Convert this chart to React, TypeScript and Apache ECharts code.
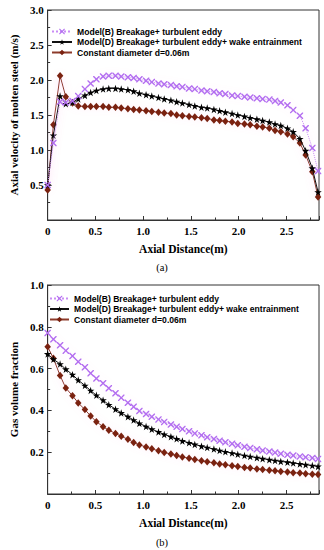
import React, { useEffect, useRef } from "react";
import * as echarts from "echarts";

const X = [0, 0.06, 0.13, 0.19, 0.26, 0.32, 0.39, 0.45, 0.51, 0.58, 0.64, 0.71, 0.77, 0.84, 0.90, 0.96, 1.03, 1.09, 1.16, 1.22, 1.29, 1.35, 1.41, 1.48, 1.54, 1.61, 1.67, 1.74, 1.80, 1.86, 1.93, 1.99, 2.06, 2.12, 2.19, 2.25, 2.32, 2.38, 2.44, 2.51, 2.57, 2.64, 2.70, 2.77, 2.83];

const VEL_B = [0.50, 1.10, 1.69, 1.68, 1.70, 1.77, 1.87, 1.95, 2.01, 2.05, 2.06, 2.06, 2.05, 2.04, 2.03, 2.01, 1.99, 1.97, 1.95, 1.94, 1.93, 1.91, 1.90, 1.88, 1.87, 1.85, 1.84, 1.83, 1.81, 1.80, 1.78, 1.77, 1.76, 1.75, 1.74, 1.73, 1.72, 1.70, 1.68, 1.64, 1.57, 1.49, 1.31, 1.03, 0.70];
const VEL_D = [0.50, 1.21, 1.77, 1.66, 1.68, 1.73, 1.78, 1.82, 1.85, 1.87, 1.88, 1.88, 1.87, 1.86, 1.84, 1.81, 1.79, 1.77, 1.75, 1.73, 1.71, 1.69, 1.67, 1.65, 1.63, 1.61, 1.60, 1.58, 1.56, 1.54, 1.52, 1.50, 1.48, 1.46, 1.44, 1.42, 1.40, 1.37, 1.35, 1.31, 1.26, 1.16, 0.99, 0.74, 0.40];
const VEL_C = [0.43, 1.36, 2.06, 1.76, 1.67, 1.63, 1.62, 1.62, 1.62, 1.62, 1.61, 1.61, 1.60, 1.59, 1.58, 1.57, 1.56, 1.55, 1.54, 1.53, 1.52, 1.50, 1.49, 1.48, 1.47, 1.46, 1.45, 1.43, 1.42, 1.41, 1.40, 1.38, 1.37, 1.36, 1.34, 1.33, 1.31, 1.28, 1.26, 1.23, 1.19, 1.10, 0.93, 0.69, 0.33];

const GAS_B = [0.77, 0.74, 0.712, 0.686, 0.66, 0.633, 0.606, 0.578, 0.553, 0.53, 0.506, 0.482, 0.46, 0.437, 0.417, 0.397, 0.383, 0.370, 0.357, 0.345, 0.333, 0.322, 0.311, 0.300, 0.290, 0.281, 0.272, 0.263, 0.255, 0.248, 0.240, 0.233, 0.226, 0.220, 0.214, 0.208, 0.203, 0.198, 0.193, 0.188, 0.184, 0.180, 0.176, 0.172, 0.168];
const GAS_D = [0.67, 0.645, 0.622, 0.597, 0.571, 0.545, 0.519, 0.495, 0.472, 0.449, 0.427, 0.406, 0.388, 0.370, 0.354, 0.338, 0.323, 0.310, 0.297, 0.285, 0.274, 0.264, 0.254, 0.245, 0.237, 0.229, 0.222, 0.215, 0.208, 0.202, 0.196, 0.190, 0.184, 0.179, 0.174, 0.169, 0.164, 0.160, 0.156, 0.152, 0.148, 0.144, 0.140, 0.136, 0.132];
const GAS_C = [0.705, 0.649, 0.567, 0.507, 0.47, 0.436, 0.404, 0.373, 0.346, 0.322, 0.305, 0.29, 0.276, 0.262, 0.247, 0.235, 0.225, 0.216, 0.207, 0.199, 0.191, 0.184, 0.177, 0.171, 0.165, 0.159, 0.154, 0.149, 0.144, 0.140, 0.135, 0.131, 0.127, 0.124, 0.120, 0.117, 0.114, 0.111, 0.108, 0.105, 0.102, 0.100, 0.097, 0.095, 0.093];

const NAMES = [
  "Model(B) Breakage+ turbulent eddy",
  "Model(D) Breakage+ turbulent eddy+ wake entrainment",
  "Constant diameter d=0.06m",
];
const X_NAME = "Axial Distance(m)";
const Y_NAMES = ["Axial velocity of molten steel (m/s)", "Gas volume fraction"];
const PANEL_LABELS = ["(a)", "(b)"];

const STAR = "path://M50,0 L61,35 L98,35 L68,57 L79,91 L50,70 L21,91 L32,57 L2,35 L39,35 Z";
const CROSS = "path://M0,0 L3,0 L10,7 L17,0 L20,0 L20,3 L13,10 L20,17 L20,20 L17,20 L10,13 L3,20 L0,20 L0,17 L7,10 L0,3 Z";

const SERIF = "Liberation Serif";

function makeSeries(idx: number, vals: number[][]) {
  const styles = [
    { symbol: CROSS, size: 6.5, line: "#c98cf5", mark: "#b36ef0", type: "dotted", halo: true },
    { symbol: STAR, size: 7.5, line: "#111111", mark: "#000000", type: "solid", halo: false },
    { symbol: "diamond", size: [6.5, 7.5], line: "#8d3b2a", mark: "#7a2210", type: "solid", halo: true },
  ];
  return vals.map((arr, k) => {
    const s = styles[k];
    return {
      type: "line",
      name: NAMES[k],
      xAxisIndex: idx,
      yAxisIndex: idx,
      data: X.map((x, i) => [x, arr[i]]),
      symbol: s.symbol,
      symbolSize: s.size,
      showAllSymbol: true,
      lineStyle: {
        color: s.line,
        width: 1,
        type: s.type,
        ...(s.halo ? { shadowColor: "rgba(255,140,215,0.5)", shadowBlur: 7 } : {}),
      },
      itemStyle: { color: s.mark },
      z: 3 - k,
    };
  });
}

function xAxis(gridIndex: number) {
  return {
    type: "value",
    gridIndex,
    min: 0,
    max: 2.84,
    interval: 0.5,
    name: X_NAME,
    nameLocation: "middle",
    nameGap: 23,
    nameTextStyle: { fontFamily: SERIF, fontWeight: "bold", fontSize: 11.5, color: "#000" },
    axisLine: { show: true, lineStyle: { color: "#333", width: 1 } },
    axisTick: { show: true, inside: true, length: 4, lineStyle: { color: "#333" } },
    minorTick: { show: true, splitNumber: 2, length: 2.5, lineStyle: { color: "#333" } },
    splitLine: { show: false },
    axisLabel: {
      showMaxLabel: false,
      margin: 5,
      fontFamily: SERIF,
      fontWeight: "bold",
      fontSize: 11,
      color: "#000",
      formatter: (v: number) => (v === 0 ? "0" : v.toFixed(1)),
    },
  };
}

function yAxis(gridIndex: number, max: number, interval: number, name: string) {
  return {
    type: "value",
    gridIndex,
    min: 0,
    max,
    interval,
    name,
    nameLocation: "middle",
    nameGap: 25,
    nameRotate: 90,
    nameTextStyle: { fontFamily: SERIF, fontWeight: "bold", fontSize: 11, color: "#000" },
    axisLine: { show: true, lineStyle: { color: "#333", width: 1 } },
    axisTick: { show: true, inside: true, length: 4, lineStyle: { color: "#333" } },
    minorTick: { show: true, splitNumber: 2, length: 2.5, lineStyle: { color: "#333" } },
    splitLine: { show: false },
    axisLabel: {
      showMinLabel: false,
      margin: 4,
      fontFamily: SERIF,
      fontWeight: "bold",
      fontSize: 11,
      color: "#000",
      formatter: (v: number) => v.toFixed(1),
    },
  };
}

function legend(top: number, left: number, itemWidth: number) {
  return {
    top,
    left,
    orient: "vertical",
    itemWidth,
    itemHeight: 7,
    itemGap: 1.5,
    padding: 0,
    textStyle: { fontFamily: "Liberation Sans", fontWeight: "bold", fontSize: 8.6, color: "#000" },
    data: NAMES,
  };
}

export default function App() {
  const ref = useRef<HTMLDivElement>(null);
  useEffect(() => {
    if (!ref.current) return;
    const chart = echarts.init(ref.current, null, { renderer: "svg" });
    chart.setOption({
      animation: false,
      backgroundColor: "#fff",
      grid: [
        { left: 36, top: 10, width: 283, height: 210, show: true, borderColor: "#333", borderWidth: 1, backgroundColor: "transparent" },
        { left: 36, top: 285, width: 283, height: 209, show: true, borderColor: "#333", borderWidth: 1, backgroundColor: "transparent" },
      ],
      legend: [legend(27, 51, 20), legend(294, 49, 19)],
      xAxis: [xAxis(0), xAxis(1)],
      yAxis: [yAxis(0, 3, 0.5, Y_NAMES[0]), yAxis(1, 1, 0.2, Y_NAMES[1])],
      series: [...makeSeries(0, [VEL_B, VEL_D, VEL_C]), ...makeSeries(1, [GAS_B, GAS_D, GAS_C])],
      graphic: [
        { type: "text", x: 162, y: 267, style: { text: PANEL_LABELS[0], fontFamily: SERIF, fontSize: 10.5, fill: "#000", align: "center", verticalAlign: "middle" } },
        { type: "text", x: 162, y: 542, style: { text: PANEL_LABELS[1], fontFamily: SERIF, fontSize: 10.5, fill: "#000", align: "center", verticalAlign: "middle" } },
      ],
    });
    return () => chart.dispose();
  }, []);
  return <div ref={ref} style={{ position: "fixed", left: 0, top: 0, width: 324, height: 550 }} />;
}
